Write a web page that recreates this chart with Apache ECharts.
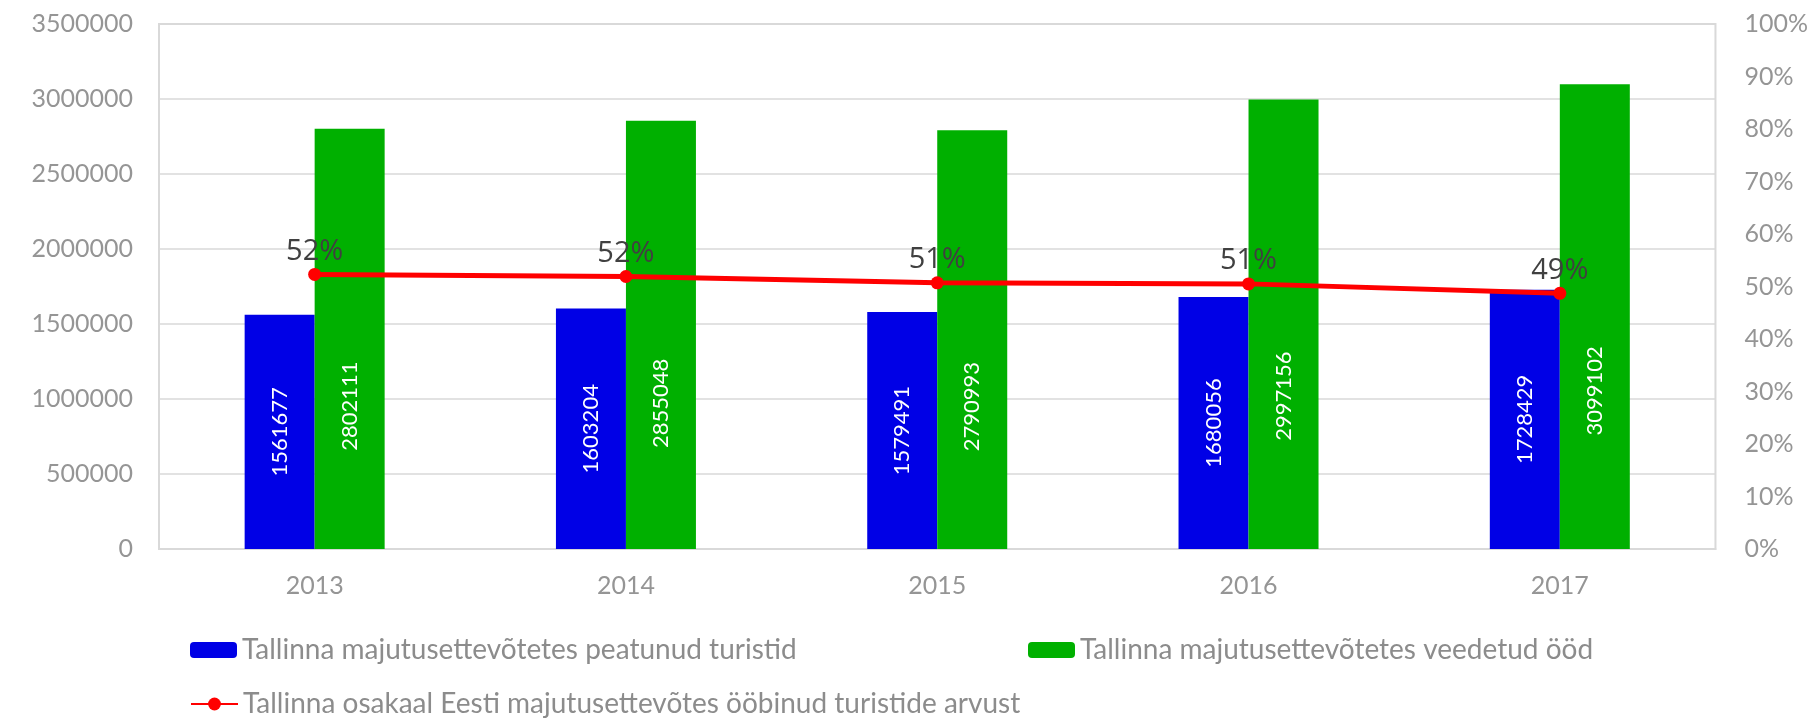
<!DOCTYPE html>
<html>
<head>
<meta charset="utf-8">
<script src="https://cdn.jsdelivr.net/npm/echarts@6/dist/echarts.min.js"></script>
<style>
  html, body { margin: 0; padding: 0; background: #fff; }
  #chart-container { width: 1811px; height: 720px; }
</style>
</head>
<body>
<div id="chart-container"></div>
<script>
const years = ['2013', '2014', '2015', '2016', '2017'];
const tourists = [1561677, 1603204, 1579491, 1680056, 1728429];
const nights = [2802111, 2855048, 2790993, 2997156, 3099102];
const share = [52.3, 51.9, 50.7, 50.5, 48.7];

const names = [
  'Tallinna majutusettevõtetes peatunud turistid',
  'Tallinna majutusettevõtetes veedetud ööd',
  'Tallinna osakaal Eesti majutusettevõtes ööbinud turistide arvust'
];

const dom = document.getElementById('chart-container');
const myChart = echarts.init(dom, null, { renderer: 'canvas' });

const axisFont = { color: '#959595', fontSize: 25, fontFamily: 'Lato, sans-serif' };
const legendText = { color: '#8c8c8c', fontSize: 28, fontFamily: 'Lato, sans-serif' };

const makeLegend = (name, left, top) => ({
  data: [name],
  left: left,
  top: top,
  padding: 0,
  itemWidth: 47,
  itemHeight: 16,
  itemGap: 0,
  textStyle: legendText,
  selectedMode: false
});

const option = {
  animation: false,
  backgroundColor: '#fff',
  grid: {
    left: 159,
    right: 59,
    top: 24,
    bottom: 171,
    show: true,
    borderColor: '#d9d9d9',
    borderWidth: 2
  },
  legend: [
    makeLegend(names[0], 190, 636),
    makeLegend(names[1], 1028, 636),
    makeLegend(names[2], 190, 690)
  ],
  xAxis: {
    type: 'category',
    data: years,
    axisTick: { show: false },
    axisLine: { lineStyle: { color: '#d9d9d9', width: 2 } },
    axisLabel: Object.assign({ margin: 24 }, axisFont)
  },
  yAxis: [
    {
      type: 'value',
      min: 0,
      max: 3500000,
      interval: 500000,
      axisLine: { show: false },
      axisTick: { show: false },
      axisLabel: Object.assign({ margin: 26, formatter: (v) => String(v) }, axisFont),
      splitLine: { lineStyle: { color: '#d9d9d9', width: 1.5 } }
    },
    {
      type: 'value',
      min: 0,
      max: 100,
      interval: 10,
      position: 'right',
      axisLine: { show: false },
      axisTick: { show: false },
      splitLine: { show: false },
      axisLabel: Object.assign({ margin: 29, formatter: '{value}%' }, axisFont)
    }
  ],
  series: [
    {
      name: names[0],
      type: 'bar',
      data: tourists,
      barWidth: 70,
      barGap: '0%',
      itemStyle: { color: '#0000e6' },
      label: {
        show: true,
        position: 'inside',
        rotate: 90,
        align: 'center',
        verticalAlign: 'middle',
        color: '#fff',
        fontSize: 22,
        fontFamily: 'Lato, sans-serif'
      }
    },
    {
      name: names[1],
      type: 'bar',
      data: nights,
      barWidth: 70,
      itemStyle: { color: '#00b000' },
      label: {
        show: true,
        position: ['50%', '66%'],
        rotate: 90,
        align: 'center',
        verticalAlign: 'middle',
        color: '#fff',
        fontSize: 22,
        fontFamily: 'Lato, sans-serif'
      }
    },
    {
      name: names[2],
      type: 'line',
      yAxisIndex: 1,
      data: share,
      z: 10,
      symbol: 'circle',
      symbolSize: 13,
      lineStyle: { color: '#ff0000', width: 5 },
      itemStyle: { color: '#ff0000' },
      label: {
        show: true,
        position: 'top',
        distance: 2,
        color: '#404040',
        fontSize: 29,
        fontFamily: '"Open Sans", sans-serif',
        formatter: (p) => Math.round(p.value) + '%'
      }
    }
  ]
};

myChart.setOption(option);
window.addEventListener('resize', () => myChart.resize());
</script>
</body>
</html>
